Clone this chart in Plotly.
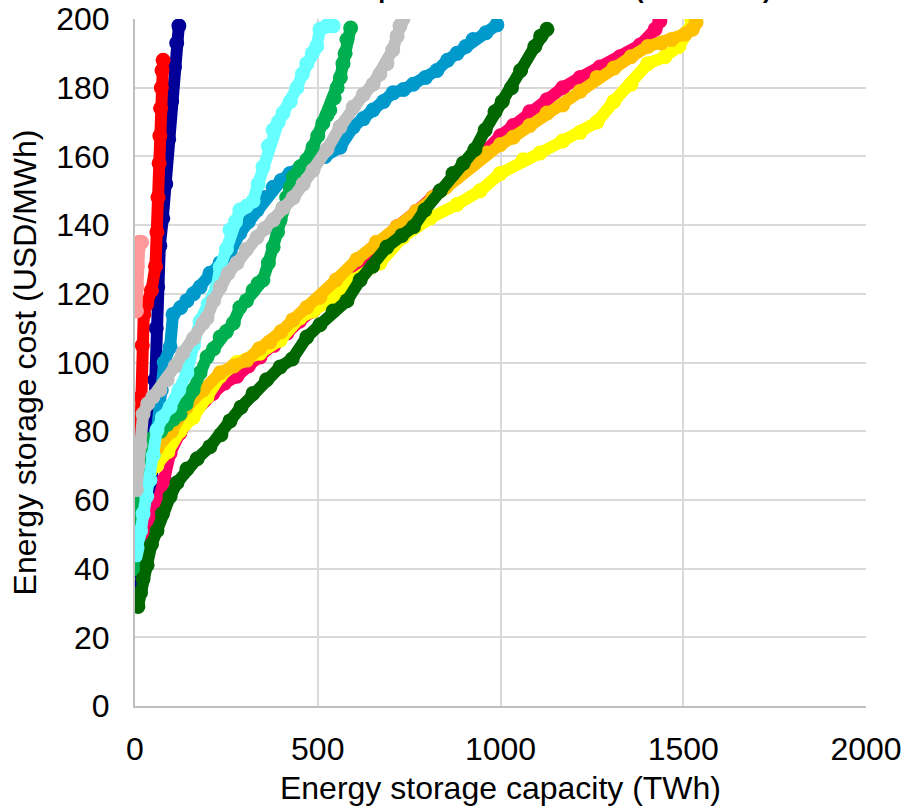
import plotly.graph_objects as go

# ---------------- data ----------------
navy_x = [12, 20, 30, 40, 46, 50, 54, 58, 62, 68, 76, 84, 92, 100, 108, 114, 120]
navy_y = [33, 38, 45, 55, 65, 80, 95, 110, 122, 134, 142, 152, 165, 176, 186, 193, 198]

red_x = [10, 14, 17, 20, 24, 32, 45, 56, 60, 63, 66, 68, 70, 72, 74, 77]
red_y = [62, 75, 90, 105, 114, 117, 121, 128, 138, 148, 158, 166, 174, 180, 185, 188]

salmon_x = [4, 5, 6, 8, 12, 18]
salmon_y = [115, 122, 128, 133, 135, 135]

blue_x = [60, 72, 80, 96, 104, 125, 142, 160, 178, 205, 233, 260, 287, 310, 334, 355, 378, 400,
          424, 455, 487, 520, 561, 597, 625, 651, 680, 706, 735, 761, 795, 826, 855, 881, 905, 925,
          960, 990]
blue_y = [80, 92, 100, 104.5, 114, 116, 118, 120, 122, 126, 129, 132, 137.7, 141, 144.4, 148, 151,
          153, 155, 157, 159, 160, 162.7, 168.6, 171, 173.5, 176, 178.5, 179.5, 181, 183, 185, 188,
          190, 192, 194, 196, 198.3]

green_x = [5, 8, 14, 22, 35, 49, 70, 88, 105, 123, 140, 159, 178, 197, 215, 233, 250, 269, 287,
           305, 323, 337, 350, 365, 378, 390, 397, 405, 415, 425, 433, 452, 470, 487, 500, 514,
           525, 533, 545, 553, 562, 569, 575, 580, 590]
green_y = [40, 56, 61, 69.6, 75, 78, 80, 82, 83.5, 85, 88, 92, 97, 101.6, 104, 107.4, 109, 111.5,
           116, 118, 121, 123, 124, 129, 133.6, 138, 141.5, 145, 148, 151, 154, 157, 159, 162.7,
           166, 169.7, 172, 173.5, 177, 180, 183, 187, 190, 194, 197.4]

cyan_x = [5, 8, 15, 22, 32, 41, 50, 60, 75, 96, 120, 142, 160, 178, 200, 224, 233, 250, 260, 275,
          287, 305, 323, 337, 350, 365, 378, 392, 405, 425, 443, 458, 470, 485, 497, 506, 525, 542]
cyan_y = [44, 46, 51, 56, 61, 65.8, 73, 80.3, 84, 87, 92, 97, 105, 112, 117, 122, 127.8, 133,
          138.6, 141, 144.4, 145.5, 147, 152, 156.9, 163, 167.7, 170, 172.6, 176, 180, 184, 187,
          190, 192, 197, 198, 198]

gray_x = [4, 8, 14, 22, 35, 49, 68, 88, 110, 131, 160, 186, 197, 215, 233, 255, 279, 305, 334,
          355, 378, 405, 433, 460, 487, 525, 561, 597, 625, 651, 670, 689, 705, 717, 725, 733]
gray_y = [63, 70, 76, 85, 88, 90, 92, 95, 99, 102.8, 107, 111.5, 113, 118, 122, 126, 129, 133,
          136.5, 139, 141.5, 145, 148, 152, 156, 162, 168.6, 174.4, 178, 181, 184, 187, 191, 195,
          198, 200]

crimson_x = [25, 45, 63, 80, 96, 123, 159, 190, 213, 245, 279, 310, 342, 380, 416, 450, 487, 520,
             553, 607, 660, 717, 770, 815, 881, 925, 963, 1000, 1035, 1080, 1127, 1170, 1218, 1272,
             1327, 1382, 1423, 1436]
crimson_y = [45, 52, 58, 66, 73.6, 79.5, 85, 89, 91, 94, 96, 99, 101.6, 105, 108.6, 112, 115, 118,
             121, 128, 134, 139.5, 144, 148, 154, 158, 162, 166, 169, 173, 176.5, 180, 183, 186,
             189, 192.4, 197, 199.4]

yellow_x = [40, 60, 90, 123, 159, 197, 233, 279, 342, 397, 451, 487, 533, 597, 670, 733, 807,
            881, 944, 999, 1062, 1108, 1170, 1218, 1264, 1310, 1357, 1403, 1450, 1488, 1516, 1524]
yellow_y = [68, 70, 74, 80, 84, 90, 96, 100, 102.7, 106.5, 113, 115, 118, 124, 129, 136.5, 142,
            146, 150, 155, 159, 161, 164.5, 167, 170, 176, 181, 187, 189, 192, 196.8, 199.7]

orange_x = [35, 60, 100, 140, 186, 233, 270, 306, 340, 369, 400, 432, 470, 506, 550, 607, 660,
            717, 770, 815, 850, 881, 920, 963, 1000, 1035, 1080, 1127, 1170, 1218, 1264, 1310,
            1357, 1403, 1440, 1468, 1505, 1525, 1535]
orange_y = [72, 75, 80, 87, 92, 97, 99, 100.7, 104, 106, 109, 112.4, 116, 119, 124, 130, 135,
            139.5, 144, 148, 151, 154, 157.5, 161, 163.5, 165.6, 169, 172.6, 175, 179, 183, 185.7,
            189, 192, 193, 194, 195.6, 197, 199]

dkgreen_x = [8, 15, 22, 33, 45, 60, 75, 96, 115, 142, 170, 205, 235, 260, 290, 323, 360, 397, 430,
             470, 506, 542, 580, 616, 650, 689, 730, 762, 793, 835, 870, 898, 930, 958, 985, 1005,
             1030, 1055, 1094, 1110, 1127]
dkgreen_y = [29, 33, 37, 41, 47, 51, 56, 61, 65, 69, 72, 75.5, 79, 83, 87, 91, 95, 98.7, 101,
             107.4, 111, 115, 118, 124, 128, 133.6, 137, 139.5, 144.4, 150, 155, 158, 162, 167.7,
             173, 176, 180, 185, 192, 195, 197]

series = [
    ("navy", navy_x, navy_y, "#000099"),
    ("red", red_x, red_y, "#ff0000"),
    ("salmon", salmon_x, salmon_y, "#ff9999"),
    ("crimson", crimson_x, crimson_y, "#ff0066"),
    ("yellow", yellow_x, yellow_y, "#ffff00"),
    ("orange", orange_x, orange_y, "#ffc000"),
    ("blue", blue_x, blue_y, "#0099cc"),
    ("green", green_x, green_y, "#00b050"),
    ("cyan", cyan_x, cyan_y, "#66ffff"),
    ("gray", gray_x, gray_y, "#bfbfbf"),
    ("dkgreen", dkgreen_x, dkgreen_y, "#006600"),
]

x_ticks = [0, 500, 1000, 1500, 2000]
y_ticks = [0, 20, 40, 60, 80, 100, 120, 140, 160, 180, 200]

FONT = "Liberation Sans, Arial, sans-serif"

fig = go.Figure()
for name, xs, ys, col in series:
    fig.add_trace(go.Scatter(
        x=xs, y=ys, name=name, mode="lines+markers",
        line=dict(color=col, width=12),
        marker=dict(color=col, size=15),
        showlegend=False, hoverinfo="skip",
    ))

fig.update_layout(
    width=908, height=812,
    margin=dict(l=135, r=42, t=19, b=106, autoexpand=False),
    paper_bgcolor="white", plot_bgcolor="white",
    font=dict(family=FONT, size=32, color="black"),
    showlegend=False,
)
fig.update_xaxes(
    range=[0, 2000], tickvals=x_ticks, ticktext=[str(v) for v in x_ticks],
    showgrid=True, gridcolor="#d9d9d9", gridwidth=2,
    showline=True, linecolor="#bfbfbf", linewidth=2,
    zeroline=False, ticks="", ticklabelstandoff=14,
    tickfont=dict(size=32),
    title=dict(text="Energy storage capacity (TWh)", font=dict(size=32), standoff=10),
    automargin=False,
)
fig.update_yaxes(
    range=[0, 200], tickvals=y_ticks, ticktext=[str(v) for v in y_ticks],
    showgrid=True, gridcolor="#d9d9d9", gridwidth=2,
    showline=True, linecolor="#bfbfbf", linewidth=2,
    zeroline=False, ticks="", ticklabelstandoff=17,
    tickfont=dict(size=32),
    title=dict(text="Energy storage cost (USD/MWh)", font=dict(size=32), standoff=10),
    automargin=False,
)
fig.add_annotation(
    text="<b>Theoretical potential cost curves (USD/MWh)</b>",
    xref="paper", yref="paper", x=0.505, y=1.0204,
    xanchor="center", yanchor="bottom", showarrow=False,
    font=dict(family=FONT, size=25, color="black"),
)

fig.write_html("out.html")
